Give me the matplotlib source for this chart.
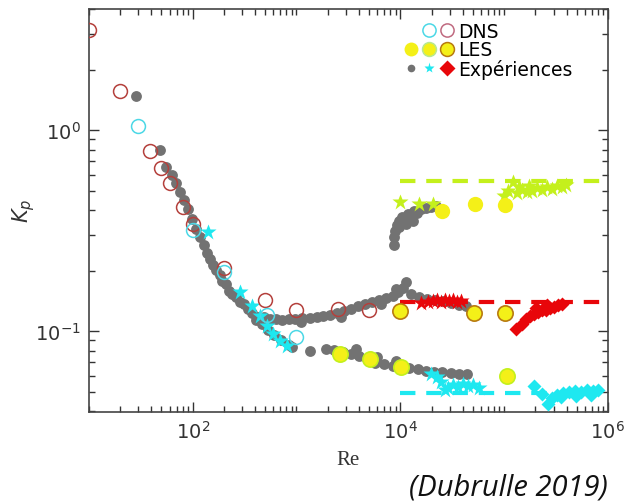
"""Kp versus Re: DNS, LES and experiments (Dubrulle 2019)."""

from __future__ import annotations

import numpy as np
import matplotlib

matplotlib.use("Agg")
import matplotlib.pyplot as plt
from matplotlib.legend_handler import HandlerTuple
from matplotlib.lines import Line2D
from matplotlib.ticker import FixedLocator, LogLocator, NullFormatter


# --- DNS (open circles) ---
DNS_RED_RE = [10, 20, 39, 50, 60, 80, 100, 200, 500, 1000, 2500, 5000]
DNS_RED_K = [3.14, 1.56, 0.79, 0.65, 0.545, 0.416, 0.34, 0.207, 0.143, 0.127, 0.129, 0.127]
DNS_CYAN_RE = [30, 100, 200, 520, 1000]
DNS_CYAN_K = [1.05, 0.32, 0.197, 0.12, 0.094]

# --- LES (filled circles) ---
LES_PLAIN_RE = [25500, 52500, 102000]
LES_PLAIN_K = [0.397, 0.428, 0.425]
LES_CYAN_RE = [2600, 5070, 10200, 106000]
LES_CYAN_K = [0.0774, 0.0731, 0.0664, 0.060]
LES_ORANGE_RE = [10000, 50900, 102000]
LES_ORANGE_K = [0.126, 0.1225, 0.1225]

# --- experiments: grey dots ---
EXP_GREY_RE = [
    28.5, 48.5, 55.5, 63.4, 69.3, 75.7, 82.8, 90.6, 98.9, 108, 118, 129, 138, 148,
    158, 169, 184, 193, 211, 225, 241, 263, 288, 315, 344, 376,
    411, 469, 536, 612, 716, 838, 915, 1336,
    1905, 2277, 2780, 3325, 3980, 4750, 5670, 6940, 8470, 10100, 12100, 14800,
    17600, 21100, 25100, 30700, 36700, 43900, 3720, 5930, 9060,
    430, 491, 561, 641, 733, 838, 978, 1142, 1336, 1561, 1783, 2083, 2434, 2845,
    3325, 3885, 4540, 5310, 6200, 7245, 8470, 9460, 10570, 11300, 12600, 15100,
    18000, 21500, 25700, 30700, 36700, 42900, 1094, 2660, 6480, 9060,
    8650, 8650, 8850, 9250, 9680, 10300, 11000, 11800, 12600, 13500, 14400, 15800,
    17600, 19700, 22000, 9680, 11300, 13200,
]
EXP_GREY_K = [
    1.48, 0.80, 0.655, 0.597, 0.545, 0.492, 0.449, 0.405, 0.361, 0.322, 0.294, 0.268, 0.244, 0.228,
    0.213, 0.201, 0.190, 0.177, 0.171, 0.158, 0.153, 0.1475, 0.139, 0.136, 0.129, 0.123,
    0.1135, 0.108, 0.101, 0.0955, 0.0902, 0.0851, 0.0832, 0.0795,
    0.0813, 0.0804, 0.0787, 0.0769, 0.0751, 0.0726, 0.0693, 0.0685, 0.067, 0.067, 0.0655, 0.0647,
    0.0632, 0.0625, 0.0625, 0.0618, 0.0611, 0.0611, 0.0813, 0.0743, 0.0709,
    0.1174, 0.1174, 0.1148, 0.1148, 0.1135, 0.1148, 0.1148, 0.116, 0.116, 0.1174, 0.1188, 0.120, 0.123, 0.1258,
    0.129, 0.133, 0.136, 0.139, 0.1426, 0.146, 0.149, 0.156, 0.1637, 0.175, 0.153, 0.1475,
    0.144, 0.1426, 0.141, 0.138, 0.1346, 0.133, 0.111, 0.1174, 0.136, 0.162,
    0.268, 0.293, 0.315, 0.337, 0.352, 0.369, 0.361, 0.382, 0.378, 0.395, 0.386, 0.405,
    0.409, 0.414, 0.419, 0.329, 0.34, 0.352,
]

# --- experiments: green stars ---
EXP_GREEN_RE = [10000, 15100, 20600, 98900, 110000, 121000, 132000, 138000, 148000, 165000,
                172000, 184000, 206000, 230000, 258000, 288000, 321000, 360000, 393000]
EXP_GREEN_K = [0.437, 0.428, 0.428, 0.471, 0.50, 0.551, 0.487, 0.52, 0.505, 0.49,
               0.53, 0.50, 0.515, 0.505, 0.52, 0.51, 0.53, 0.52, 0.535]

# --- experiments: cyan stars ---
EXP_CYAN_STAR_RE = [141, 288, 376, 449, 525, 600, 700, 818,
                    19700, 22600, 24600, 26900, 28800, 32200, 35900, 40200, 44900, 50200, 57300]
EXP_CYAN_STAR_K = [0.311, 0.156, 0.133, 0.119, 0.106, 0.0966, 0.0891, 0.0842,
                   0.061, 0.059, 0.0557, 0.0509, 0.052, 0.0539, 0.0527, 0.0545, 0.0532, 0.0539, 0.052]

# --- experiments: cyan diamonds ---
EXP_CYAN_DIAM_RE = [193000, 230000, 263000, 288000, 321000, 352000, 367000, 420000, 480000,
                    490000, 548000, 627000, 686000, 716000, 800000]
EXP_CYAN_DIAM_K = [0.0532, 0.0486, 0.0433, 0.0464, 0.048, 0.047, 0.0491, 0.0497, 0.0503,
                   0.0475, 0.0497, 0.0509, 0.048, 0.0503, 0.0509]

# --- experiments: red ---
EXP_RED_STAR_RE = [15800, 18600, 20600, 22500, 24600, 26900, 29400, 32200, 35200, 38500]
EXP_RED_STAR_K = [0.138, 0.139, 0.141, 0.1426, 0.139, 0.1426, 0.141, 0.1426, 0.139, 0.141]
EXP_RED_DIAM_RE = [130600, 148000, 161000, 176000, 193000, 205000, 211000, 230000, 252000,
                   258000, 275000, 301000, 329000, 360000]
EXP_RED_DIAM_K = [0.102, 0.1084, 0.1148, 0.119, 0.1216, 0.130, 0.1244, 0.127, 0.127,
                  0.1346, 0.130, 0.1316, 0.1346, 0.136]

# --- asymptotic levels (dashed) ---
DASH_RE = [1e4, 1e6]
DASH_GREEN_K = 0.56
DASH_RED_K = 0.14
DASH_CYAN_K = 0.0495

X_TICKS = [1e2, 1e4, 1e6]
X_TICK_LABELS = ["$10^2$", "$10^4$", "$10^6$"]
Y_TICKS = [1e-1, 1e0]
Y_TICK_LABELS = ["$10^{-1}$", "$10^0$"]

GREY = "#727272"
CYAN = "#1ee8f0"
RED = "#e8060a"
DNS_RED = "#b4403c"
DNS_CYAN = "#4cd8e6"
YELLOW = "#f4f018"
LIME = "#c4f01c"
ORANGE_EDGE = "#b87a10"


def main() -> None:
    fig = plt.figure(figsize=(6.26, 5.02), dpi=100)
    ax = fig.add_axes([0.142, 0.178, 0.829, 0.803])

    # experiments
    ax.plot(EXP_GREY_RE, EXP_GREY_K, "o", ms=7.8, color=GREY, mec="none", zorder=2)
    ax.plot(EXP_GREEN_RE, EXP_GREEN_K, "*", ms=12, color=LIME, mec="none", zorder=3)
    ax.plot(EXP_CYAN_STAR_RE, EXP_CYAN_STAR_K, "*", ms=12, color=CYAN, mec="none", zorder=3)
    ax.plot(EXP_CYAN_DIAM_RE, EXP_CYAN_DIAM_K, "D", ms=7, color=CYAN, mec="none", zorder=3)
    ax.plot(EXP_RED_STAR_RE, EXP_RED_STAR_K, "*", ms=12, color=RED, mec="none", zorder=3)
    ax.plot(EXP_RED_DIAM_RE, EXP_RED_DIAM_K, "D", ms=7.5, color=RED, mec="none", zorder=3)

    # asymptotic dashed levels
    for level, color in ((DASH_GREEN_K, LIME), (DASH_RED_K, RED), (DASH_CYAN_K, CYAN)):
        ax.plot(DASH_RE, [level, level], color=color, lw=3.0, dashes=(3.7, 2.6), zorder=4)

    # LES
    ax.plot(LES_PLAIN_RE, LES_PLAIN_K, "o", ms=11, color=YELLOW, mec="none", zorder=5)
    ax.plot(LES_CYAN_RE, LES_CYAN_K, "o", ms=11, color=YELLOW, mec=LIME, mew=1.2, zorder=5)
    ax.plot(LES_ORANGE_RE, LES_ORANGE_K, "o", ms=11, color=YELLOW, mec=ORANGE_EDGE, mew=1.2, zorder=5)

    # DNS
    ax.plot(DNS_RED_RE, DNS_RED_K, "o", ms=10, mfc="none", mec=DNS_RED, mew=1.1, zorder=6)
    ax.plot(DNS_CYAN_RE, DNS_CYAN_K, "o", ms=10, mfc="none", mec=DNS_CYAN, mew=1.1, zorder=6)

    ax.set_xscale("log")
    ax.set_yscale("log")
    ax.set_xlim(10, 1e6)
    ax.set_ylim(0.0398, 4.02)

    ax.xaxis.set_major_locator(FixedLocator(X_TICKS))
    ax.set_xticklabels(X_TICK_LABELS)
    ax.xaxis.set_minor_locator(LogLocator(base=10, subs=np.arange(1, 10), numticks=20))
    ax.xaxis.set_minor_formatter(NullFormatter())
    ax.yaxis.set_major_locator(FixedLocator(Y_TICKS))
    ax.set_yticklabels(Y_TICK_LABELS)
    ax.yaxis.set_minor_locator(LogLocator(base=10, subs=np.arange(2, 10), numticks=20))
    ax.yaxis.set_minor_formatter(NullFormatter())

    ax.tick_params(which="both", direction="in", top=True, right=True, color="#333333",
                   labelcolor="#333333", labelsize=14, width=1.0)
    ax.tick_params(which="major", length=7, pad=6)
    ax.tick_params(which="minor", length=4)
    for spine in ax.spines.values():
        spine.set_color("#444444")
        spine.set_linewidth(1.2)

    ax.set_xlabel("Re", family="Liberation Serif", fontsize=15, color="#333333", labelpad=6)
    ax.set_ylabel("$K_p$", fontsize=15, color="#333333")
    ax.yaxis.set_label_coords(-0.10, 0.5)

    # legend with grouped markers
    blank = Line2D([], [], ls="none", marker="o", ms=9, mfc="none", mec="none")
    dns_c = Line2D([], [], ls="none", marker="o", ms=9.5, mfc="none", mec=DNS_CYAN, mew=1.1)
    dns_r = Line2D([], [], ls="none", marker="o", ms=9.5, mfc="none", mec="#c06a80", mew=1.1)
    les_y = Line2D([], [], ls="none", marker="o", ms=10, color=YELLOW, mec="none")
    les_c = Line2D([], [], ls="none", marker="o", ms=10, color=YELLOW, mec="#b8e890", mew=1.1)
    les_o = Line2D([], [], ls="none", marker="o", ms=10, color=YELLOW, mec=ORANGE_EDGE, mew=1.1)
    exp_g = Line2D([], [], ls="none", marker="o", ms=5.5, color=GREY, mec="none")
    exp_c = Line2D([], [], ls="none", marker="*", ms=8, color=CYAN, mec="none")
    exp_r = Line2D([], [], ls="none", marker="D", ms=8, color=RED, mec="none")
    ax.legend(
        [(blank, dns_c, dns_r), (les_y, les_c, les_o), (exp_g, exp_c, exp_r)],
        ["DNS", "LES", "Expériences"],
        handler_map={tuple: HandlerTuple(ndivide=None, pad=0)},
        loc="upper left",
        bbox_to_anchor=(0.578, 1.0),
        frameon=False,
        fontsize=13.5,
        handlelength=2.9,
        handletextpad=0.1,
        labelspacing=-0.02,
        borderpad=0.2,
    )

    fig.text(608 / 626, 0.028, "(Dubrulle 2019)", ha="right", va="center", style="italic",
             family="Open Sans", fontsize=21, color="#111111")

    fig.savefig("out.png", dpi=100)
    plt.close(fig)


if __name__ == "__main__":
    main()
